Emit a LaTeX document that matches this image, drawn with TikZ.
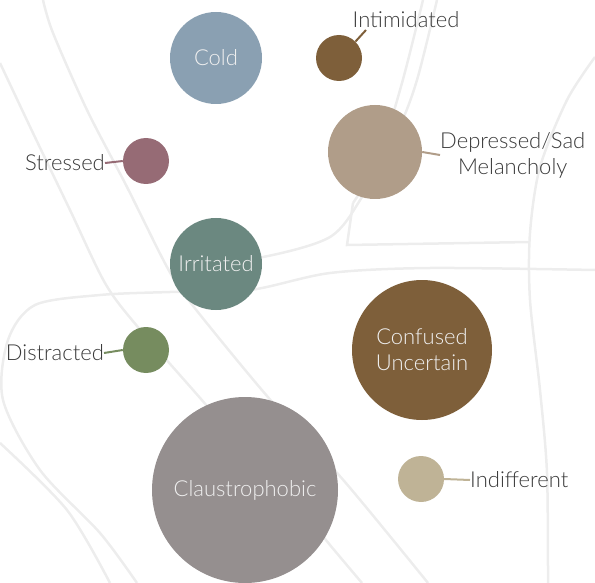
\documentclass[tikz,border=0pt]{standalone}
\usepackage{fontspec}
\setmainfont{Lato}[UprightFont=* Light]
\definecolor{coldc}{HTML}{8AA0B2}
\definecolor{brownc}{HTML}{7E5F3A}
\definecolor{deprc}{HTML}{B09D89}
\definecolor{stressc}{HTML}{966B75}
\definecolor{irritc}{HTML}{6B8880}
\definecolor{distrc}{HTML}{768C5F}
\definecolor{clausc}{HTML}{958F8F}
\definecolor{indifc}{HTML}{BFB396}
\definecolor{txtc}{HTML}{3A3A3A}
\definecolor{trackc}{HTML}{EDEDED}
\begin{document}
\begin{tikzpicture}[x=1pt,y=-1pt,
  bubble/.style={circle,inner sep=0pt,minimum size=#1,text=white!94!black,align=center,
    font=\fontsize{22}{26}\selectfont},
  lbl/.style={inner sep=0pt,text=txtc,align=center,font=\fontsize{22}{26}\selectfont},
  track/.style={trackc,line width=2.5pt}]
\useasboundingbox (0,0) rectangle (595,583);

% faint background lines
\draw[track] plot[smooth] coordinates {(43,0) (53,33) (87,110) (127,187) (167,267) (190,302) (267,396) (345,482) (428,583)};
\draw[track] plot[smooth] coordinates {(0,63) (33,133) (70,210) (105,283) (137,326) (207,406) (260,470)};
\draw[track] plot[smooth] coordinates {(595,270) (430,268) (330,273) (250,290) (170,292) (100,295) (35,305) (8,340) (3,400) (40,470) (100,533) (137,583)};
\draw[track] plot[smooth] coordinates {(0,443) (67,510) (110,583)};
\draw[track] plot[smooth] coordinates {(437,0) (417,80) (398,130) (362,197) (330,237) (263,257) (200,262)};
\draw[track] plot[smooth] coordinates {(423,0) (402,83) (378,160) (353,203)};
\draw[track] (353,203) -- (347,245) -- (530,242);
\draw[track] plot[smooth] coordinates {(595,57) (567,100) (540,167) (530,233) (530,300) (540,390) (547,473) (548,583)};
\draw[track] plot[smooth] coordinates {(310,520) (330,545) (362,583)};

% bubbles
\node[bubble=92pt,fill=coldc] (cold) at (216,58) {Cold};
\node[bubble=46pt,fill=brownc] (intim) at (339,58) {};
\node[bubble=94pt,fill=deprc] (depr) at (375,152) {};
\node[bubble=46pt,fill=stressc] (stress) at (146,161) {};
\node[bubble=92pt,fill=irritc] (irrit) at (216,264) {Irritated};
\node[bubble=46pt,fill=distrc] (distr) at (146,350) {};
\node[bubble=140pt,fill=brownc] (confu) at (422,350) {Confused\\Uncertain};
\node[bubble=186pt,fill=clausc] (claus) at (245,490) {Claustrophobic};
\node[bubble=46pt,fill=indifc] (indif) at (421,479) {};

% labels
\node[lbl] (intimlbl) at (406,20) {Intimidated};
\node[lbl,anchor=west] (deprlbl) at (440,155) {Depressed/Sad\\Melancholy};
\node[lbl,anchor=east] (stresslbl) at (105,163) {Stressed};
\node[lbl,anchor=east] (distrlbl) at (104,353) {Distracted};
\node[lbl,anchor=west] (indiflbl) at (470,480) {Indifferent};

\coordinate (intimtip) at (366,30);
\draw[brownc,line width=2pt] (intim.45) -- (intimtip);
\draw[deprc,line width=2pt] (depr.east) -- (deprlbl.west);
\draw[stressc,line width=2pt] (stress.west) -- (stresslbl.east);
\draw[distrc,line width=2pt] (distr.west) -- (distrlbl.east);
\draw[indifc,line width=2pt] (indif.east) -- (indiflbl.west);
\end{tikzpicture}
\end{document}
